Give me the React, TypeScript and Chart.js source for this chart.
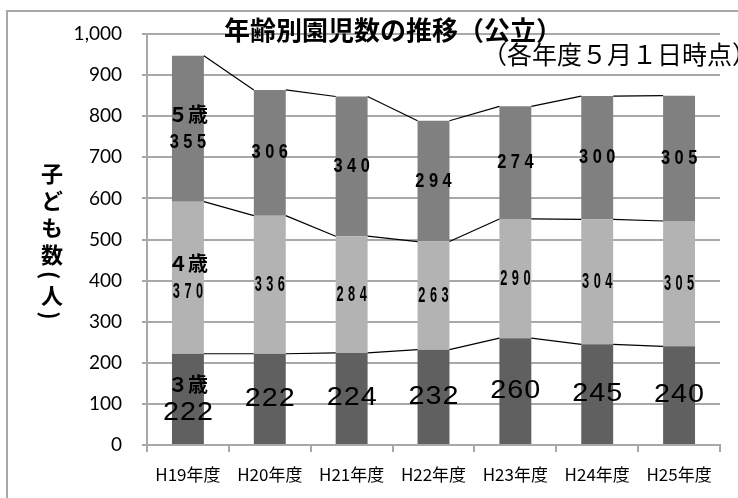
import { useEffect, useRef } from "react";
import { Chart, registerables } from "chart.js";

Chart.register(...registerables);

// ---- data ----
const categories = ["H19年度", "H20年度", "H21年度", "H22年度", "H23年度", "H24年度", "H25年度"];
const age3 = [222, 222, 224, 232, 260, 245, 240];
const age4 = [370, 336, 284, 263, 290, 304, 305];
const age5 = [355, 306, 340, 294, 274, 300, 305];
const seriesNames = ["３歳", "４歳", "５歳"];
const yTickValues = [0, 100, 200, 300, 400, 500, 600, 700, 800, 900, 1000];
const titleText = "年齢別園児数の推移（公立）";
const subtitleText = "（各年度５月１日時点）";
const yAxisTitle = "子ども数(人)";

const CJK = '"Noto Sans CJK JP"';
const SANS = '"Liberation Sans"';
const GRID = "#a8a8a8";

type TextStyle = { font: string; xScale: number; spacing: number };

// per-series label styles: [name line, value line]
const labelStyles: { name: TextStyle; value: TextStyle }[] = [
  {
    name: { font: `bold 20px ${CJK}`, xScale: 1, spacing: 0 },
    value: { font: `25px ${SANS}`, xScale: 1.15, spacing: 1 },
  },
  {
    name: { font: `bold 20px ${CJK}`, xScale: 1, spacing: 0 },
    value: { font: `bold 22px ${SANS}`, xScale: 0.58, spacing: 4.5 },
  },
  {
    name: { font: `bold 20px ${CJK}`, xScale: 1, spacing: 0 },
    value: { font: `bold 20px ${SANS}`, xScale: 0.82, spacing: 4.5 },
  },
];

function drawSpaced(ctx: CanvasRenderingContext2D, text: string, cx: number, cy: number, st: TextStyle) {
  ctx.font = st.font;
  const chars = Array.from(text);
  const widths = chars.map((c) => ctx.measureText(c).width * st.xScale);
  const total = widths.reduce((a, b) => a + b, 0) + st.spacing * (chars.length - 1);
  let x = cx - total / 2;
  chars.forEach((c, i) => {
    ctx.save();
    ctx.translate(x + widths[i] / 2, cy);
    ctx.scale(st.xScale, 1);
    ctx.textAlign = "center";
    ctx.textBaseline = "middle";
    ctx.fillText(c, 0, 0);
    ctx.restore();
    x += widths[i] + st.spacing;
  });
}

// outer frame drawn behind everything
const framePlugin = {
  id: "frame",
  beforeDraw(chart: any) {
    const ctx = chart.ctx as CanvasRenderingContext2D;
    ctx.save();
    ctx.fillStyle = "#fff";
    ctx.fillRect(0, 0, chart.width, chart.height);
    ctx.strokeStyle = GRID;
    ctx.lineWidth = 2;
    ctx.strokeRect(7, 11, chart.width + 20, chart.height + 20);
    ctx.restore();
  },
};

// series lines connecting the tops of each stacked segment
const seriesLinesPlugin = {
  id: "seriesLines",
  afterDatasetsDraw(chart: any) {
    const ctx = chart.ctx as CanvasRenderingContext2D;
    ctx.save();
    ctx.strokeStyle = "#000";
    ctx.lineWidth = 1.2;
    chart.data.datasets.forEach((_: any, di: number) => {
      const meta = chart.getDatasetMeta(di);
      for (let i = 0; i < meta.data.length - 1; i++) {
        const a = meta.data[i];
        const b = meta.data[i + 1];
        ctx.beginPath();
        ctx.moveTo(a.x + a.width / 2, a.y);
        ctx.lineTo(b.x - b.width / 2, b.y);
        ctx.stroke();
      }
    });
    ctx.restore();
  },
};

// value labels in the middle of each segment, series name on the first bar
const segmentLabelsPlugin = {
  id: "segmentLabels",
  afterDatasetsDraw(chart: any) {
    const ctx = chart.ctx as CanvasRenderingContext2D;
    ctx.save();
    ctx.fillStyle = "#000";
    chart.data.datasets.forEach((ds: any, di: number) => {
      const meta = chart.getDatasetMeta(di);
      const st = labelStyles[di];
      meta.data.forEach((el: any, i: number) => {
        const cy = (el.y + el.base) / 2;
        const value = String(ds.data[i]);
        if (i === 0) {
          drawSpaced(ctx, seriesNames[di], el.x, cy - 14, st.name);
          drawSpaced(ctx, value, el.x, cy + 14, st.value);
        } else {
          drawSpaced(ctx, value, el.x, cy, st.value);
        }
      });
    });
    ctx.restore();
  },
};

// chart title and subtitle
const textPlugin = {
  id: "texts",
  afterDraw(chart: any) {
    const ctx = chart.ctx as CanvasRenderingContext2D;
    ctx.save();
    ctx.fillStyle = "#000";
    ctx.textBaseline = "middle";
    ctx.textAlign = "left";
    ctx.font = `bold 26px ${CJK}`;
    ctx.fillText(titleText, 224, 30);
    ctx.font = `25px ${CJK}`;
    ctx.fillText(subtitleText, 482, 54);
    ctx.restore();
  },
};

export default function App() {
  const ref = useRef<HTMLCanvasElement>(null);

  useEffect(() => {
    let chart: Chart | null = null;
    let cancelled = false;
    const fonts = [
      `bold 26px ${CJK}`,
      `25px ${CJK}`,
      `17px ${CJK}`,
      `19px Lato`,
      `25px ${SANS}`,
      `bold 20px ${SANS}`,
    ];
    Promise.all(fonts.map((f) => document.fonts.load(f).catch(() => null))).then(() => {
      if (cancelled || !ref.current) return;
      chart = new Chart(ref.current, {
        type: "bar",
        data: {
          labels: categories,
          datasets: [
            { label: seriesNames[0], data: age3, backgroundColor: "#606060" },
            { label: seriesNames[1], data: age4, backgroundColor: "#b3b3b3" },
            { label: seriesNames[2], data: age5, backgroundColor: "#808080" },
          ],
        },
        options: {
          animation: false,
          responsive: false,
          maintainAspectRatio: false,
          layout: { padding: { top: 34, right: 18, left: 0, bottom: 0 } },
          datasets: { bar: { categoryPercentage: 1, barPercentage: 0.39, borderWidth: 0 } },
          plugins: {
            legend: { display: false },
            tooltip: { enabled: false },
          },
          scales: {
            x: {
              stacked: true,
              grid: {
                offset: true,
                drawOnChartArea: false,
                drawTicks: true,
                tickLength: 7,
                color: GRID,
                lineWidth: 2,
              },
              border: { color: GRID, width: 2 },
              ticks: {
                color: "#000",
                font: { family: "Noto Sans CJK JP", size: 17 },
                padding: 12,
                maxRotation: 0,
                autoSkip: false,
              },
              afterFit(s: any) {
                s.height = 53;
              },
            },
            y: {
              stacked: true,
              min: 0,
              max: 1000,
              afterBuildTicks(s: any) {
                s.ticks = yTickValues.map((v) => ({ value: v }));
              },
              ticks: {
                color: "#000",
                font: { family: "Lato", size: 19 },
                padding: 20,
                callback: (v: any) => Number(v).toLocaleString("en-US"),
              },
              grid: { color: GRID, lineWidth: 2, tickLength: 5 },
              border: { color: GRID, width: 2 },
              afterFit(s: any) {
                s.width = 147;
              },
            },
          },
        },
        plugins: [framePlugin, seriesLinesPlugin, segmentLabelsPlugin, textPlugin],
      });
    });
    return () => {
      cancelled = true;
      if (chart) chart.destroy();
    };
  }, []);

  return (
    <div style={{ position: "fixed", left: 0, top: 0, width: 738, height: 498, background: "#fff" }}>
      <canvas ref={ref} width={738} height={498} style={{ display: "block" }} />
      {/* vertical axis title: upright characters, sideways parentheses */}
      <div
        style={{
          position: "absolute",
          left: 37,
          top: 163,
          width: 30,
          writingMode: "vertical-rl",
          lineHeight: "30px",
          fontFamily: CJK,
          fontWeight: "bold",
          fontSize: 22,
          letterSpacing: 5,
          color: "#000",
          whiteSpace: "nowrap",
        }}
      >
        {yAxisTitle}
      </div>
    </div>
  );
}
